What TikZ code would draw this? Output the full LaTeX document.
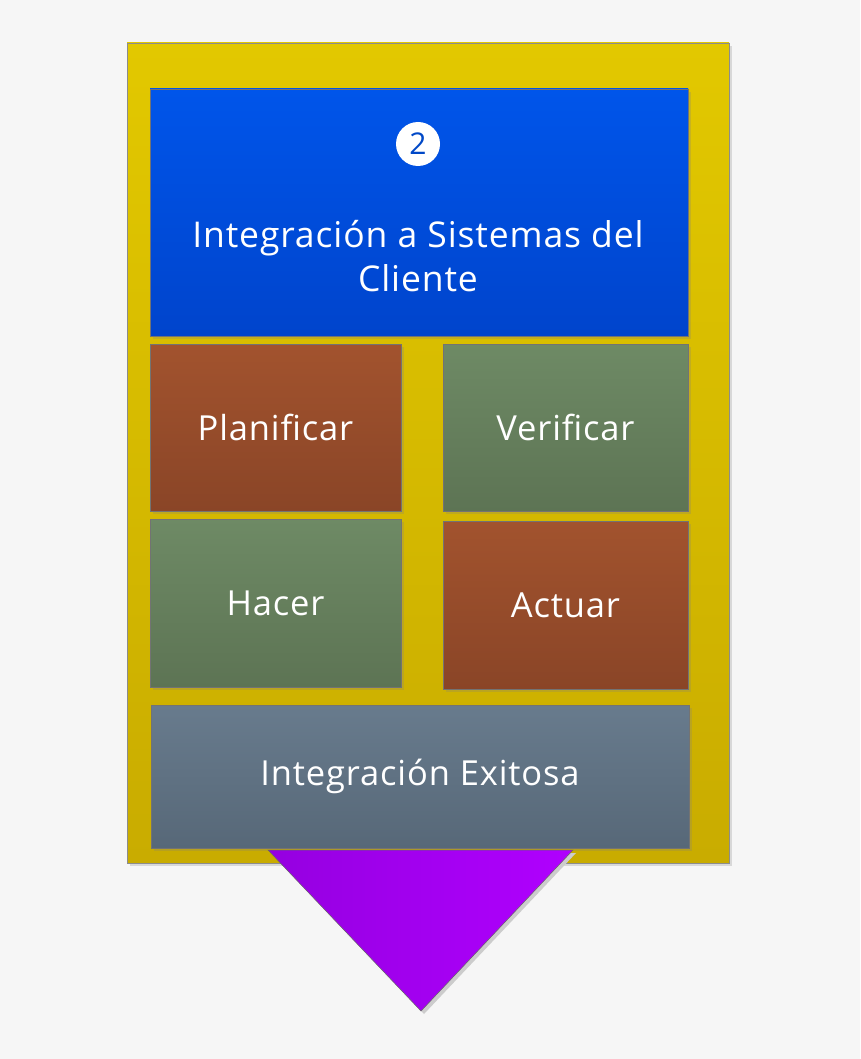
\documentclass[tikz,border=0pt]{standalone}
\usepackage{fontspec}
\setmainfont{Open Sans}[LetterSpace=2.5]
\usepackage{xcolor}
\usetikzlibrary{positioning,shadows}

\definecolor{bgcol}{HTML}{F6F6F6}
\definecolor{goldtop}{HTML}{E2C800}
\definecolor{goldbot}{HTML}{C9AC00}
\definecolor{bluetop}{HTML}{0055EA}
\definecolor{bluebot}{HTML}{0044CC}
\definecolor{rusttop}{HTML}{A2532E}
\definecolor{rustbot}{HTML}{8A4527}
\definecolor{sagetop}{HTML}{6E8A65}
\definecolor{sagebot}{HTML}{5D7454}
\definecolor{slatetop}{HTML}{687B8D}
\definecolor{slatebot}{HTML}{576878}
\definecolor{violtop}{HTML}{B000FF}
\definecolor{violbot}{HTML}{9500E0}

\begin{document}
\begin{tikzpicture}[
    x=1pt, y=-1pt,
    every box/.style={rectangle, draw=black!55, line width=0.8pt, inner sep=0pt,
      text=white, align=center, font=\fontsize{34.5}{44}\selectfont,
      drop shadow={shadow xshift=3pt, shadow yshift=-3pt, opacity=0.25}},
    rust box/.style={every box, top color=rusttop, bottom color=rustbot},
    sage box/.style={every box, top color=sagetop, bottom color=sagebot},
    slate box/.style={every box, top color=slatetop, bottom color=slatebot},
    blue box/.style={every box, top color=bluetop, bottom color=bluebot}
]
    \fill[bgcol] (0,0) rectangle (860,1059);

    % outer frame
    \node[every box, top color=goldtop, bottom color=goldbot, draw=black!45,
      minimum width=602, minimum height=820] (frame) at (428,453) {};

    % header
    \node[blue box, minimum width=538, minimum height=247] (cliente) at (419,212.5) {};
    \node[circle, fill=white, minimum size=44, inner sep=0pt, text=bluetop!85!black,
      font=\fontsize{30}{32}\selectfont] (paso) at (418,144) {2};
    \node[text=white, align=center, font=\fontsize{35.5}{44}\selectfont] (titulo) at (418,256)
      {Integración a Sistemas del\\Cliente};

    % ciclo
    \node[rust box, minimum width=251, minimum height=167] (plan) at (275.5,427.5) {Planificar};
    \node[sage box, minimum width=245, minimum height=167] (verif) at (565.5,427.5) {Verificar};
    \node[sage box, minimum width=251, minimum height=168] (hacer) at (275.5,603) {Hacer};
    \node[rust box, minimum width=245, minimum height=168] (actuar) at (565.5,605) {Actuar};

    % resultado
    \node[slate box, minimum width=538, minimum height=143] (exito) at (420,776.5) {Integración Exitosa};

    % flecha
    \fill[black!20] (271,853) -- (576,853) -- (424,1014) -- cycle;
    \draw[black!60, line width=0.5pt, left color=violbot, right color=violtop]
      (268,850) -- (573,850) -- (421,1011) -- cycle;
\end{tikzpicture}
\end{document}
